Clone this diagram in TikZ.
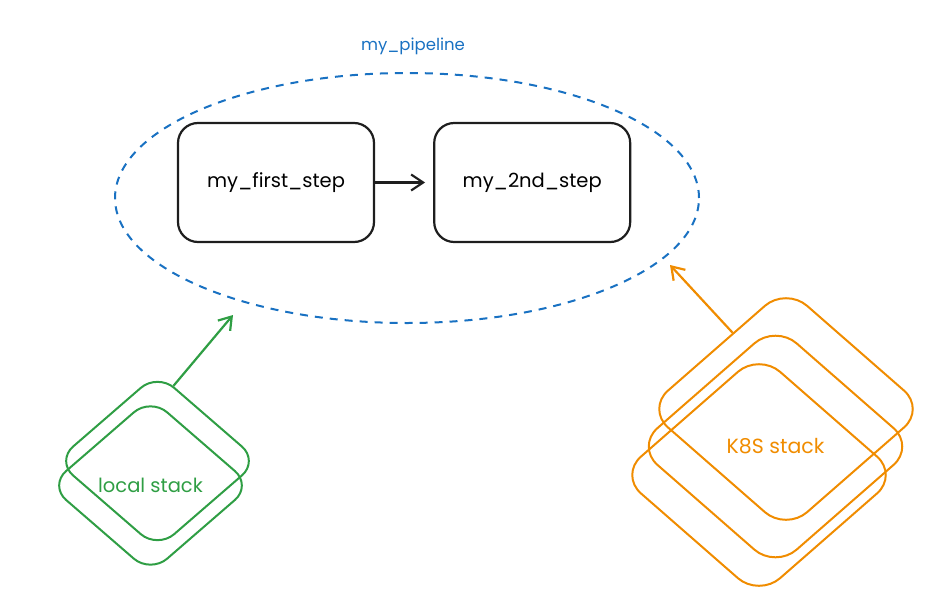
\documentclass[tikz,border=0pt]{standalone}
\usepackage{fontspec}
\setmainfont{Poppins}
\usetikzlibrary{positioning,arrows.meta,shapes.geometric}
\definecolor{pipeblue}{HTML}{1971C2}
\definecolor{localgreen}{HTML}{2F9E44}
\definecolor{korange}{HTML}{F08C00}
\definecolor{inkblack}{HTML}{1E1E1E}
\tikzset{
  >={Straight Barb[length=12pt,width=16pt]},
}

\begin{document}
\begin{tikzpicture}[
x=1pt, y=-1pt,
stepbox/.style={draw=inkblack, line width=2.2pt, rounded corners=20pt,
  minimum width=196pt, minimum height=119pt, inner sep=0pt,
  font=\fontsize{19.5}{23}\selectfont},
localbox/.style={diamond, draw=localgreen, line width=2pt, rounded corners=22pt,
  minimum width=203pt, minimum height=176pt, inner sep=0pt,
  text=localgreen, font=\fontsize{19.5}{23}\selectfont},
k8sbox/.style={diamond, draw=korange, line width=2pt, rounded corners=28pt,
  minimum width=279pt, minimum height=244pt, inner sep=0pt,
  text=korange, font=\fontsize{20.5}{24}\selectfont}
]
\useasboundingbox (0,0) rectangle (952,610);

% pipeline
\node[ellipse, draw=pipeblue, line width=2pt, dash pattern=on 8pt off 7pt,
  minimum width=584pt, minimum height=250pt] (pipe) at (407,198) {};
\node[text=pipeblue, font=\fontsize{16.5}{19}\selectfont] (pipelabel) at (413,46) {my\_pipeline};

\node[stepbox] (first) at (276,182.5) {my\_first\_step};
\node[stepbox, right=58pt of first] (second) {my\_2nd\_step};
\draw[->, inkblack, line width=2.2pt, shorten >=8pt] (first) -- (second);

% local stack
\node[localbox] (loc1) at (157.5,461) {};
\node[localbox] (loc2) at (150.5,485.5) {local stack};

% k8s stack
\node[k8sbox] (kA) at (786,409) {};
\node[k8sbox] (kB) at (775.5,446.5) {K8S stack};
\node[k8sbox] (kC) at (759,475) {};

\coordinate (locend) at (233,315);
\coordinate (k8send) at (670,265);
\draw[->, localgreen, line width=2.2pt] (loc1.78) -- (locend);
\draw[->, korange, line width=2.2pt] (kA.125) -- (k8send);
\end{tikzpicture}
\end{document}
